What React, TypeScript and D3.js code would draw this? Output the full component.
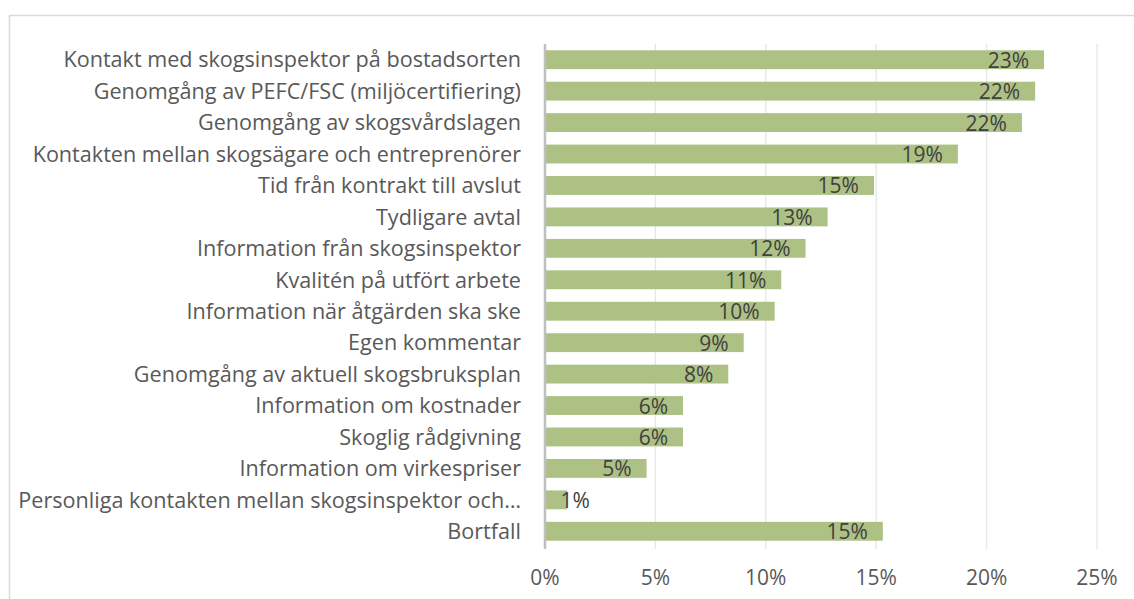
import React from "react";
import * as d3 from "d3";

const categories = [
  "Kontakt med skogsinspektor på bostadsorten",
  "Genomgång av PEFC/FSC (miljöcertifiering)",
  "Genomgång av skogsvårdslagen",
  "Kontakten mellan skogsägare och entreprenörer",
  "Tid från kontrakt till avslut",
  "Tydligare avtal",
  "Information från skogsinspektor",
  "Kvalitén på utfört arbete",
  "Information när åtgärden ska ske",
  "Egen kommentar",
  "Genomgång av aktuell skogsbruksplan",
  "Information om kostnader",
  "Skoglig rådgivning",
  "Information om virkespriser",
  "Personliga kontakten mellan skogsinspektor och…",
  "Bortfall",
];
const values = [22.6, 22.2, 21.6, 18.7, 14.9, 12.8, 11.8, 10.7, 10.4, 9.0, 8.3, 6.25, 6.25, 4.6, 1.0, 15.3];
const ticks = [0, 5, 10, 15, 20, 25];

const W = 1134;
const H = 599;
const FONT = "'Open Sans', sans-serif";

export default function App() {
  const x = d3.scaleLinear().domain([0, 25]).range([545, 1097]);
  const y = d3.scaleBand<string>().domain(categories).range([44, 547]).paddingInner(0.4).paddingOuter(0.2);
  return (
    <svg width={W} height={H} style={{ position: "absolute", left: 0, top: 0 }}>
      <rect x={0} y={0} width={W} height={H} fill="#fff" />
      <rect x={9.5} y={15.5} width={W} height={H} fill="none" stroke="#d9d9d9" strokeWidth={1.5} />
      {ticks.map((t) => (
        <line key={"g" + t} x1={x(t)} x2={x(t)} y1={44} y2={549} stroke="#e6e6e6" strokeWidth={1.3} />
      ))}
      {categories.map((c, i) => (
        <rect key={"b" + i} x={x(0)} y={y(c)!} width={x(values[i]) - x(0)} height={y.bandwidth()} fill="#adc185" />
      ))}
      <line x1={x(0)} x2={x(0)} y1={44} y2={549} stroke="#bfbfbf" strokeWidth={2.5} />
      {categories.map((c, i) => (
        <text key={"l" + i} x={521} y={y(c)! + y.bandwidth() / 2} dy="0.36em" textAnchor="end" fontFamily={FONT} fontSize={21.6} fill="#595959">
          {c}
        </text>
      ))}
      {categories.map((c, i) => {
        const ex = x(values[i]);
        const lbl = Math.round(values[i]) + "%";
        const small = ex - x(0) < 40;
        return (
          <text key={"v" + i} x={small ? ex + 8 : ex - 15} y={y(c)! + y.bandwidth() / 2} dy="0.38em" textAnchor={small ? "middle" : "end"} fontFamily={FONT} fontSize={21} fill="#404040">
            {lbl}
          </text>
        );
      })}
      {ticks.map((t) => (
        <text key={"t" + t} x={x(t)} y={578} dy="0.35em" textAnchor="middle" fontFamily={FONT} fontSize={21} fill="#595959">
          {t + "%"}
        </text>
      ))}
    </svg>
  );
}
